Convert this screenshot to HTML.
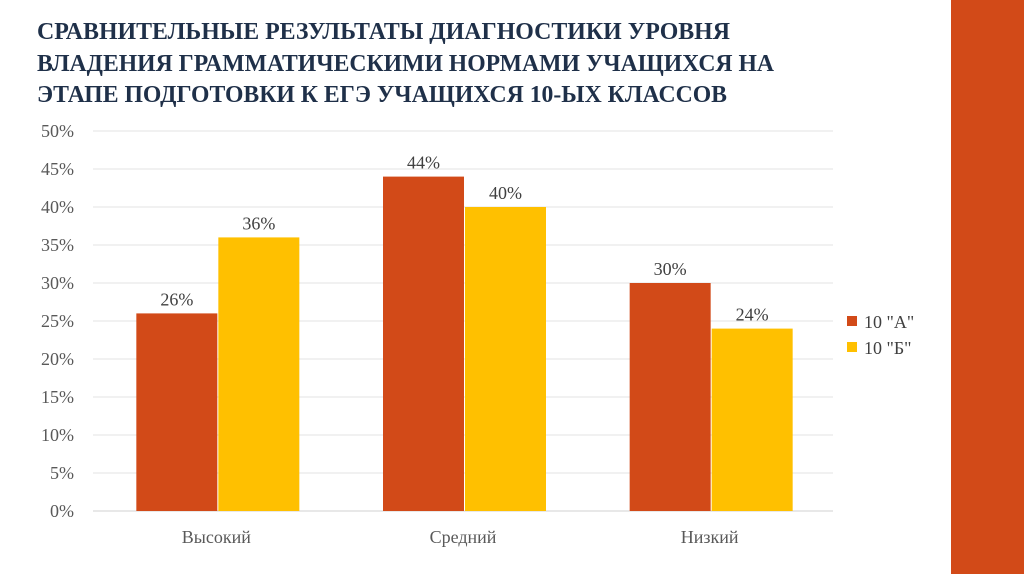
<!DOCTYPE html>
<html><head><meta charset="utf-8"><style>
html,body{margin:0;padding:0;background:#fff;}
svg{display:block;font-family:"Liberation Serif",serif;}
</style></head><body>
<svg id="c" width="1024" height="574" viewBox="0 0 1024 574">
<rect x="951" y="0" width="73" height="574" fill="#d24a18"/>
<g fill="#1f3049" font-weight="bold" font-size="24">
<text x="37" y="39" textLength="693" lengthAdjust="spacingAndGlyphs">СРАВНИТЕЛЬНЫЕ РЕЗУЛЬТАТЫ ДИАГНОСТИКИ УРОВНЯ</text>
<text x="37" y="71" textLength="737" lengthAdjust="spacingAndGlyphs">ВЛАДЕНИЯ ГРАММАТИЧЕСКИМИ НОРМАМИ УЧАЩИХСЯ НА</text>
<text x="37" y="102" textLength="690" lengthAdjust="spacingAndGlyphs">ЭТАПЕ ПОДГОТОВКИ К ЕГЭ УЧАЩИХСЯ 10-ЫХ КЛАССОВ</text>
</g>
<g id="grid"></g><g id="bars"></g><g id="labels"></g>
<g font-size="18" fill="#404040">
<rect x="847" y="316" width="10" height="10" fill="#d24a18"/>
<text x="864" y="328">10 "А"</text>
<rect x="847" y="342" width="10" height="10" fill="#ffc000"/>
<text x="864" y="354">10 "Б"</text>
</g>
</svg>
<script>
const categories=["Высокий","Средний","Низкий"];
const seriesA=[26,44,30];
const seriesB=[36,40,24];
const ticks=[0,5,10,15,20,25,30,35,40,45,50];
const NS="http://www.w3.org/2000/svg";
const x0=93,x1=833,yb=511,yt=131;
const y=v=>yb-(v/50)*(yb-yt);
const bw=(x1-x0)/categories.length;
function mk(tag,attrs,parent,txt){const e=document.createElementNS(NS,tag);for(const k in attrs)e.setAttribute(k,attrs[k]);if(txt!=null)e.textContent=txt;document.getElementById(parent).appendChild(e);return e;}
ticks.forEach(t=>{
 const l=mk('line',{x1:x0,x2:x1,y1:y(t),y2:y(t),stroke:t===0?'#d0d0d0':'#e3e3e3','stroke-width':1},'grid');
 
 
 const tx=mk('text',{x:74,y:y(t)+6,'text-anchor':'end','font-size':18,fill:'#595959'},'grid',t+'%');
 
 
});
categories.forEach((c,i)=>{
 const cx=x0+bw*(i+0.5);
 [[seriesA[i],'#d24a18',-80],[seriesB[i],'#ffc000',2]].forEach(([v,col,off],j)=>{
  const r=mk('rect',{x:cx+off,y:y(v),width:81,height:yb-y(v),fill:col},'bars');
  
  
  const t=mk('text',{x:cx+off+40.5,y:y(v)-8,'text-anchor':'middle','font-size':18,fill:'#404040'},'labels',v+'%');
  
  
 });
 const ct=mk('text',{x:cx,y:543,'text-anchor':'middle','font-size':18,fill:'#595959'},'labels',c);
 
 
});
</script>
</body></html>
